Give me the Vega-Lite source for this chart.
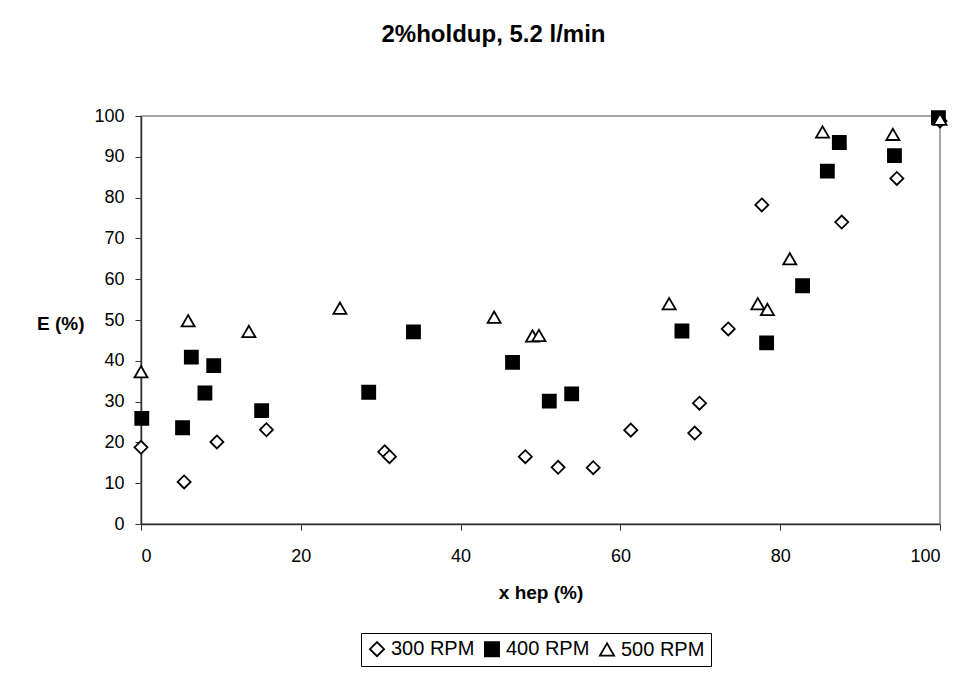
{
  "$schema": "https://vega.github.io/schema/vega-lite/v6.json",
  "width": 799,
  "height": 408,
  "autosize": {"type": "none"},
  "padding": {"left": 141, "top": 116, "right": 27, "bottom": 149},
  "background": "white",
  "title": {
    "text": "2%holdup, 5.2 l/min",
    "font": "Liberation Sans",
    "fontSize": 24,
    "fontWeight": "bold",
    "color": "black",
    "anchor": "middle",
    "frame": "group",
    "dx": -47,
    "offset": 60
  },
  "data": {
    "values": [
      {"series": "300 RPM", "x": 0, "y": 18.8},
      {"series": "300 RPM", "x": 5.4, "y": 10.3},
      {"series": "300 RPM", "x": 9.5, "y": 20.1},
      {"series": "300 RPM", "x": 15.7, "y": 23.1},
      {"series": "300 RPM", "x": 30.5, "y": 17.7},
      {"series": "300 RPM", "x": 31.1, "y": 16.5},
      {"series": "300 RPM", "x": 48.1, "y": 16.5},
      {"series": "300 RPM", "x": 52.2, "y": 13.9},
      {"series": "300 RPM", "x": 56.6, "y": 13.8},
      {"series": "300 RPM", "x": 61.3, "y": 23.0},
      {"series": "300 RPM", "x": 69.3, "y": 22.3},
      {"series": "300 RPM", "x": 69.9, "y": 29.6},
      {"series": "300 RPM", "x": 73.5, "y": 47.8},
      {"series": "300 RPM", "x": 77.7, "y": 78.2},
      {"series": "300 RPM", "x": 87.7, "y": 74.0},
      {"series": "300 RPM", "x": 94.6, "y": 84.7},
      {"series": "300 RPM", "x": 100, "y": 98.8},
      {"series": "400 RPM", "x": 0.1, "y": 25.9},
      {"series": "400 RPM", "x": 5.2, "y": 23.6},
      {"series": "400 RPM", "x": 6.3, "y": 40.9},
      {"series": "400 RPM", "x": 8.0, "y": 32.1},
      {"series": "400 RPM", "x": 9.1, "y": 38.8},
      {"series": "400 RPM", "x": 15.1, "y": 27.8},
      {"series": "400 RPM", "x": 28.5, "y": 32.3},
      {"series": "400 RPM", "x": 34.1, "y": 47.1},
      {"series": "400 RPM", "x": 46.5, "y": 39.6},
      {"series": "400 RPM", "x": 51.1, "y": 30.1},
      {"series": "400 RPM", "x": 53.9, "y": 31.9},
      {"series": "400 RPM", "x": 67.7, "y": 47.3},
      {"series": "400 RPM", "x": 78.3, "y": 44.4},
      {"series": "400 RPM", "x": 82.8, "y": 58.4},
      {"series": "400 RPM", "x": 85.9, "y": 86.5},
      {"series": "400 RPM", "x": 87.4, "y": 93.5},
      {"series": "400 RPM", "x": 94.3, "y": 90.3},
      {"series": "400 RPM", "x": 99.8, "y": 99.6},
      {"series": "500 RPM", "x": 0, "y": 37.3},
      {"series": "500 RPM", "x": 5.9, "y": 49.8},
      {"series": "500 RPM", "x": 13.5, "y": 47.2},
      {"series": "500 RPM", "x": 24.9, "y": 52.9},
      {"series": "500 RPM", "x": 44.2, "y": 50.7},
      {"series": "500 RPM", "x": 49.0, "y": 46.1},
      {"series": "500 RPM", "x": 49.8, "y": 46.2},
      {"series": "500 RPM", "x": 66.1, "y": 54.0},
      {"series": "500 RPM", "x": 77.2, "y": 54.0},
      {"series": "500 RPM", "x": 78.4, "y": 52.6},
      {"series": "500 RPM", "x": 81.2, "y": 65.0},
      {"series": "500 RPM", "x": 85.3, "y": 96.1},
      {"series": "500 RPM", "x": 94.1, "y": 95.5},
      {"series": "500 RPM", "x": 100, "y": 99.2}
    ]
  },
  "mark": {"type": "point", "filled": true, "strokeWidth": 1.8, "opacity": 1, "size": 170, "clip": false},
  "encoding": {
    "x": {
      "field": "x", "type": "quantitative",
      "scale": {"domain": [0, 100], "nice": false, "zero": false},
      "axis": {
        "title": "x hep (%)",
        "values": [0, 20, 40, 60, 80, 100],
        "grid": false,
        "domainColor": "#333",
        "domainWidth": 1.5,
        "tickColor": "#333",
        "tickSize": 6,
        "labelPadding": 17,
        "labelFont": "Liberation Sans",
        "labelFontSize": 18,
        "labelColor": "black",
        "titleFont": "Liberation Sans",
        "titleFontSize": 19,
        "titleFontWeight": "bold",
        "titleColor": "black",
        "titleBaseline": "middle",
        "titleY": 68
      }
    },
    "y": {
      "field": "y", "type": "quantitative",
      "scale": {"domain": [0, 100], "nice": false, "zero": false},
      "axis": {
        "title": "E (%)",
        "values": [0, 10, 20, 30, 40, 50, 60, 70, 80, 90, 100],
        "grid": false,
        "domainColor": "#333",
        "domainWidth": 1.5,
        "tickColor": "#333",
        "tickSize": 6,
        "labelPadding": 11,
        "labelFont": "Liberation Sans",
        "labelFontSize": 18,
        "labelColor": "black",
        "titleFont": "Liberation Sans",
        "titleFontSize": 19,
        "titleFontWeight": "bold",
        "titleColor": "black",
        "titleAngle": 0,
        "titleAlign": "right",
        "titleBaseline": "middle",
        "titleX": -57,
        "titleY": 207
      }
    },
    "shape": {
      "field": "series", "type": "nominal",
      "scale": {"domain": ["300 RPM", "400 RPM", "500 RPM"], "range": ["diamond", "square", "triangle-up"]},
      "legend": {
        "title": null,
        "orient": "none",
        "direction": "horizontal",
        "legendX": 220,
        "legendY": 517,
        "strokeColor": "black",
        "padding": 6,
        "labelFont": "Liberation Sans",
        "labelFontSize": 20,
        "labelColor": "black",
        "labelOffset": 4,
        "columnPadding": 6,
        "symbolSize": 200,
        "symbolStrokeWidth": 1.8
      }
    },
    "fill": {
      "field": "series", "type": "nominal",
      "scale": {"domain": ["300 RPM", "400 RPM", "500 RPM"], "range": ["white", "black", "white"]},
      "legend": {
        "title": null,
        "orient": "none",
        "direction": "horizontal",
        "legendX": 220,
        "legendY": 517,
        "strokeColor": "black",
        "padding": 6,
        "labelFont": "Liberation Sans",
        "labelFontSize": 20,
        "labelColor": "black",
        "labelOffset": 4,
        "columnPadding": 6,
        "symbolSize": 200,
        "symbolStrokeWidth": 1.8
      }
    },
    "stroke": {
      "field": "series", "type": "nominal",
      "scale": {"domain": ["300 RPM", "400 RPM", "500 RPM"], "range": ["black", "black", "black"]},
      "legend": {
        "title": null,
        "orient": "none",
        "direction": "horizontal",
        "legendX": 220,
        "legendY": 517,
        "strokeColor": "black",
        "padding": 6,
        "labelFont": "Liberation Sans",
        "labelFontSize": 20,
        "labelColor": "black",
        "labelOffset": 4,
        "columnPadding": 6,
        "symbolSize": 200,
        "symbolStrokeWidth": 1.8
      }
    }
  },
  "config": {
    "view": {"stroke": "#888", "strokeWidth": 1.5},
    "font": "Liberation Sans"
  }
}
